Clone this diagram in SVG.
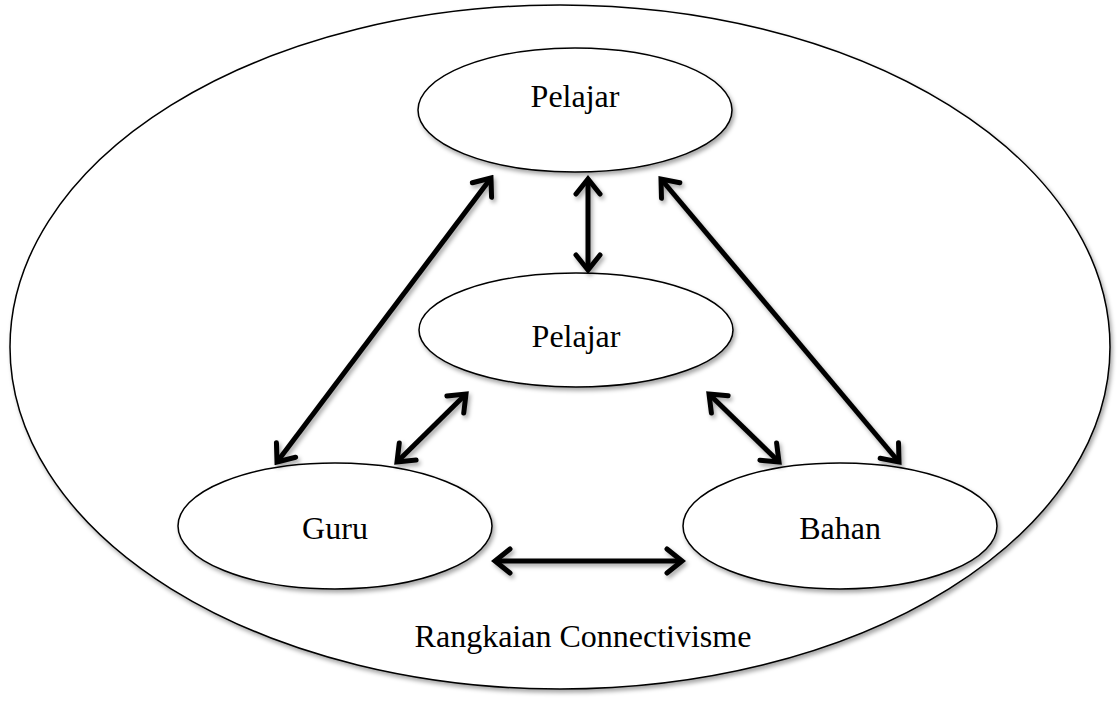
<svg xmlns="http://www.w3.org/2000/svg" width="1120" height="704" viewBox="0 0 1120 704">
<style>
.node ellipse{fill:#fff;stroke:#000;stroke-width:1.5}
.lbl{font-family:"Liberation Serif","Times New Roman",serif;font-size:32px;fill:#000;text-anchor:middle}
.conn line{stroke:#000;stroke-width:5;fill:none}
</style>
<defs>
<filter id="sh" x="-20%" y="-20%" width="140%" height="140%">
<feDropShadow dx="2" dy="3" stdDeviation="2" flood-color="#000" flood-opacity="0.35"/>
</filter>
<marker id="ah" viewBox="-22 -16 26 32" refX="0" refY="0" markerWidth="26" markerHeight="32" markerUnits="userSpaceOnUse" orient="auto-start-reverse">
<path d="M-15,-12 L0,0 L-15,12" fill="none" stroke="#000" stroke-width="5" stroke-linecap="round" stroke-linejoin="miter"/>
</marker>
</defs>
<rect width="1120" height="704" fill="#fff"/>
<g id="outer" class="node">
<ellipse cx="560" cy="347" rx="550" ry="342" filter="url(#sh)"/>
<text class="lbl" x="583" y="647">Rangkaian Connectivisme</text>
</g>
<g id="pelajar-top" class="node">
<ellipse cx="575" cy="110" rx="157" ry="62" filter="url(#sh)"/>
<text class="lbl" x="575" y="107">Pelajar</text>
</g>
<g id="pelajar-mid" class="node">
<ellipse cx="576" cy="330" rx="157" ry="57" filter="url(#sh)"/>
<text class="lbl" x="576" y="347">Pelajar</text>
</g>
<g id="guru" class="node">
<ellipse cx="335" cy="526" rx="157" ry="63" filter="url(#sh)"/>
<text class="lbl" x="335" y="539">Guru</text>
</g>
<g id="bahan" class="node">
<ellipse cx="840" cy="526" rx="157" ry="63" filter="url(#sh)"/>
<text class="lbl" x="840" y="539">Bahan</text>
</g>
<g id="connectors" class="conn" filter="url(#sh)">
<line x1="588" y1="179" x2="588" y2="270" marker-start="url(#ah)" marker-end="url(#ah)"/>
<line x1="491" y1="178" x2="277" y2="462" marker-start="url(#ah)" marker-end="url(#ah)"/>
<line x1="661" y1="179" x2="899" y2="462" marker-start="url(#ah)" marker-end="url(#ah)"/>
<line x1="466" y1="394" x2="397" y2="462" marker-start="url(#ah)" marker-end="url(#ah)"/>
<line x1="709" y1="394" x2="779" y2="462" marker-start="url(#ah)" marker-end="url(#ah)"/>
<line x1="495" y1="561" x2="682" y2="561" marker-start="url(#ah)" marker-end="url(#ah)"/>
</g>
</svg>
